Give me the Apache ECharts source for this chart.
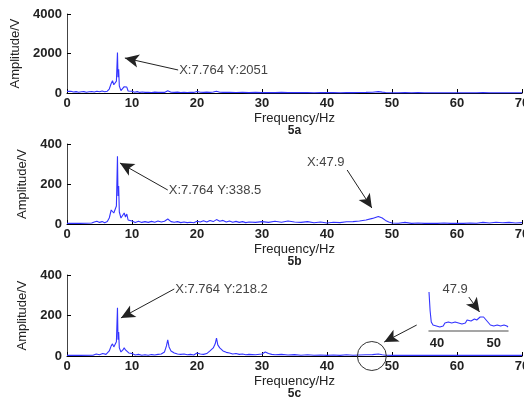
<!DOCTYPE html>
<html><head><meta charset="utf-8">
<script src="https://cdn.jsdelivr.net/npm/echarts@6/dist/echarts.min.js"></script>
<style>html,body{margin:0;padding:0;background:#fff}#c{width:524px;height:404px}</style>
</head><body><div id="c"></div><script>
// ---------- data (frequency Hz, amplitude V) ----------
const xTicks = [0, 10, 20, 30, 40, 50, 60, 70];
const subLabels = ['5a', '5b', '5c'];
const yMaxes = [4000, 400, 400];

const spec5a = [[0,80],[0.3,60],[0.6,90],[1,50],[1.4,70],[1.8,40],[2.2,60],[2.6,70],[3,40],[3.4,60],[3.8,80],[4.2,50],[4.6,90],[5,60],[5.4,100],[5.8,60],[6.2,90],[6.5,200],[6.8,480],[7.0,620],[7.2,420],[7.4,380],[7.6,600],[7.764,2051],[7.85,800],[7.95,1200],[8.05,350],[8.3,120],[8.6,200],[8.8,320],[9.0,230],[9.2,300],[9.4,100],[9.7,50],[10,90],[10.4,40],[10.8,70],[11.2,30],[11.6,50],[12,30],[12.5,40],[13,25],[13.5,45],[14,30],[14.5,40],[15,30],[15.5,110],[16,40],[16.5,30],[17,45],[17.5,25],[18,35],[18.5,25],[19,40],[19.5,30],[20,80],[20.5,40],[21,30],[21.5,45],[22,30],[22.5,50],[23,90],[23.5,40],[24,30],[25,35],[26,25],[27,30],[28,20],[29,30],[30,20],[31,25],[32,18],[33,30],[34,20],[35,28],[36,18],[37,25],[38,15],[39,22],[40,18],[41,25],[42,15],[43,22],[44,18],[45,25],[46,30],[47,40],[47.9,70],[48.5,45],[49,25],[50,15],[51,12],[52,20],[53,12],[54,18],[55,10],[56,15],[57,10],[58,14],[59,10],[60,15],[61,10],[62,14],[63,10],[64,18],[65,12],[66,16],[67,10],[68,14],[69,10],[70,12]];

const spec5b = [[0,3],[1,3],[2,3],[3,4],[3.8,5],[4.2,10],[4.6,14],[5,8],[5.4,12],[5.8,6],[6.2,12],[6.5,30],[6.8,70],[7.0,80],[7.2,55],[7.4,50],[7.6,90],[7.764,338.5],[7.85,140],[7.95,190],[8.05,60],[8.3,30],[8.6,35],[8.8,55],[9.0,35],[9.2,50],[9.4,20],[9.7,10],[10,15],[10.5,8],[11,14],[11.5,8],[12,12],[12.5,8],[13,13],[13.5,9],[14,15],[14.5,10],[15,14],[15.5,25],[16,12],[16.5,9],[17,12],[17.5,7],[18,10],[18.5,7],[19,9],[19.5,6],[20,14],[20.5,10],[21,16],[21.5,10],[22,18],[22.5,12],[23,22],[23.5,14],[24,18],[24.5,10],[25,15],[25.5,9],[26,13],[26.5,8],[27,12],[27.5,7],[28,10],[29,8],[30,12],[31,8],[32,14],[33,9],[34,15],[35,10],[36,8],[37,12],[38,6],[39,10],[40,5],[41,9],[42,7],[43,11],[44,12],[45,15],[46,20],[47,28],[47.9,38],[48.5,30],[49,18],[49.5,10],[50,5],[51,4],[52,8],[53,3],[54,5],[55,3],[56,4],[57,3],[58,5],[59,3],[60,4],[61,3],[62,5],[63,4],[64,8],[65,5],[66,9],[67,6],[68,8],[69,5],[70,7]];

const spec5c = [[0,3],[2,3],[4,4],[4.5,10],[5,6],[5.5,12],[6,8],[6.5,25],[6.8,50],[7.0,60],[7.2,45],[7.4,40],[7.6,70],[7.764,238],[7.85,80],[7.95,118],[8.05,40],[8.3,20],[8.6,30],[8.8,40],[9.0,30],[9.2,38],[9.5,15],[10,12],[10.5,5],[11,8],[11.5,4],[12,6],[12.5,4],[13,7],[13.5,5],[14,8],[14.5,10],[15,20],[15.3,50],[15.5,80],[15.7,45],[16,25],[16.5,15],[17,10],[17.5,8],[18,10],[18.5,6],[19,8],[19.5,5],[20,15],[20.5,10],[21,8],[21.5,12],[22,25],[22.5,40],[22.8,60],[23,88],[23.2,55],[23.5,40],[24,25],[24.5,18],[25,15],[25.5,10],[26,12],[26.5,8],[27,10],[27.5,6],[28,8],[29,6],[30,10],[30.5,20],[31,12],[31.5,8],[32,6],[33,8],[34,5],[35,7],[36,4],[37,6],[38,4],[39,5],[40,3],[41,5],[42,3],[43,6],[44,4],[45,5],[46,6],[47,7],[47.9,10],[48.5,6],[49,4],[50,3],[51,4],[52,3],[53,4],[54,3],[55,4],[56,3],[57,4],[58,3],[59,4],[60,3],[61,4],[62,3],[63,4],[64,3],[65,4],[66,3],[67,4],[68,3],[69,4],[70,3]];

// zoomed inset of 5c around 47.9 Hz (inset units)
const inset5c = [[38.6,39],[38.8,20],[39.0,9],[39.3,6],[39.6,8],[39.9,5],[40.2,7],[40.5,4],[40.8,6],[41.1,5],[41.4,8],[41.7,6],[42,9],[42.3,7],[42.6,8],[42.9,6],[43.2,9],[43.5,7],[43.8,8],[44.1,10],[44.4,7],[44.7,9],[45,8],[45.3,11],[45.6,9],[46,10],[46.3,9],[46.6,12],[47,11],[47.3,13],[47.6,14],[47.9,16],[48.2,14],[48.5,12],[48.8,10],[49.1,8],[49.4,6],[49.7,7],[50,5],[50.3,4],[50.6,6],[50.9,4],[51.2,5],[51.5,4],[51.8,6],[52.1,8],[52.3,5],[52.5,4]];
const insetTicks = [40, 50];

// annotations (data coordinates)
const peakText = ['X:7.764 Y:2051', 'X:7.764 Y:338.5', 'X:7.764 Y:218.2'];
const arrowsA = [[[17.1,1165],[8.9,1772]]];
const arrowsB = [[[15.5,170],[8.15,305]], [[43.1,270],[46.9,80]]];
const arrowsC = [[[16.5,331],[8.3,188]], [[53.8,153],[48.8,69]]];
const arrowsInset = [[[45.6,34],[47.5,19]]];

// ---------- chart ----------
const FONT = '"Liberation Sans", Arial, sans-serif';
const LINE = '#3434ff';
const grids = [
  {left: 67, right: 2, top: 14, height: 79, outerBoundsMode: 'none', containLabel: false},
  {left: 67, right: 2, top: 144, height: 80, outerBoundsMode: 'none', containLabel: false},
  {left: 67, right: 2, top: 275, height: 81, outerBoundsMode: 'none', containLabel: false},
  {left: 429, width: 79, top: 285, height: 46, outerBoundsMode: 'none', containLabel: false}
];
function xAx(i) {
  return {type: 'value', gridIndex: i, min: 0, max: 70, interval: 10,
    axisLine: {show: true, onZero: false, lineStyle: {color: '#000', width: 1}},
    axisTick: {show: true, inside: true, length: 4, lineStyle: {color: '#000'}},
    axisLabel: {color: '#222', fontFamily: FONT, fontSize: 13, fontWeight: 'bold', margin: 4},
    splitLine: {show: false},
    name: '{a|Frequency/Hz}\n{b|' + subLabels[i] + '}', nameLocation: 'middle', nameGap: 19,
    nameTextStyle: {rich: {
      a: {fontSize: 13, fontFamily: FONT, color: '#222', lineHeight: 13},
      b: {fontSize: 12, fontFamily: FONT, fontWeight: 'bold', color: '#222', lineHeight: 12}}}
  };
}
function yAx(i) {
  return {type: 'value', gridIndex: i, min: 0, max: yMaxes[i], interval: yMaxes[i] / 2,
    axisLine: {show: true, lineStyle: {color: '#444', width: 1}},
    axisTick: {show: true, inside: true, length: 4, lineStyle: {color: '#000'}},
    axisLabel: {color: '#222', fontFamily: FONT, fontSize: 13, fontWeight: 'bold', margin: 5,
      formatter: v => String(v)},
    splitLine: {show: false},
    name: 'Amplitude/V', nameLocation: 'middle', nameGap: 38,
    nameTextStyle: {fontSize: 13, fontFamily: FONT, color: '#222'}
  };
}
function arrowLines(list) {
  return {
    silent: true, animation: false,
    symbol: ['none', 'arrow'], symbolSize: [10, 14],
    lineStyle: {color: '#222', width: 1, type: 'solid'},
    label: {show: false}, emphasis: {disabled: true},
    data: list.map(a => [{coord: a[0]}, {coord: a[1]}])
  };
}
function textPt(coord, text, pos) {
  return {coord: coord, symbol: 'circle', symbolSize: 0,
    label: {show: true, position: pos, distance: 1, formatter: text,
      color: '#444', fontSize: 13, fontFamily: FONT}};
}
function lineSeries(i, data, mp, ml) {
  return {type: 'line', xAxisIndex: i, yAxisIndex: i, data: data,
    showSymbol: false, symbol: 'none', clip: false, animation: false, silent: true,
    lineStyle: {color: LINE, width: 1.1}, z: 3,
    markPoint: {silent: true, animation: false, data: mp},
    markLine: arrowLines(ml)};
}

const option = {
  animation: false,
  backgroundColor: '#fff',
  grid: grids,
  xAxis: [xAx(0), xAx(1), xAx(2),
    {type: 'value', gridIndex: 3, min: 38.6, max: 52.5,
      axisLine: {show: true, onZero: false, lineStyle: {color: '#888', width: 1.5}},
      axisTick: {show: false}, splitLine: {show: false},
      axisLabel: {color: '#222', fontFamily: FONT, fontSize: 13, fontWeight: 'bold', margin: 6,
        customValues: insetTicks}}],
  yAxis: [yAx(0), yAx(1), yAx(2),
    {type: 'value', gridIndex: 3, min: 0, max: 46, show: false}],
  series: [
    lineSeries(0, spec5a, [textPt(arrowsA[0][0], peakText[0], 'right')], arrowsA),
    lineSeries(1, spec5b, [textPt(arrowsB[0][0], peakText[1], 'right'),
      textPt([39.8, 310], 'X:47.9', 'inside')], arrowsB),
    lineSeries(2, spec5c, [textPt(arrowsC[0][0], peakText[2], 'right'),
      {coord: [46.9, 0], symbol: 'circle', symbolSize: 29,
        itemStyle: {color: 'rgba(0,0,0,0)', borderColor: '#333', borderWidth: 1},
        label: {show: false}}], arrowsC),
    lineSeries(3, inset5c, [textPt([43.2, 42], '47.9', 'inside')], arrowsInset)
  ]
};
const chart = echarts.init(document.getElementById('c'), null, {renderer: 'canvas'});
chart.setOption(option);
</script></body></html>
